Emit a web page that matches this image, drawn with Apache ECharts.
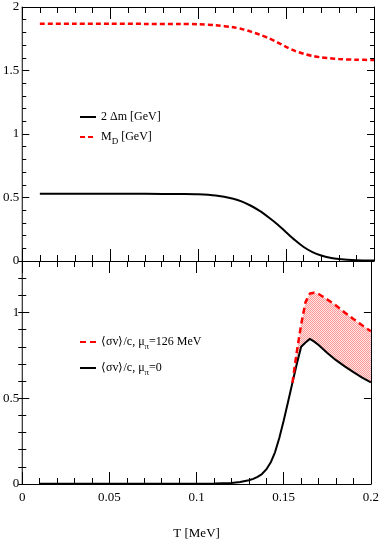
<!DOCTYPE html>
<html>
<head>
<meta charset="utf-8">
<script src="https://cdn.jsdelivr.net/npm/echarts@6/dist/echarts.min.js"></script>
<style>
    html, body { margin: 0; padding: 0; background: #fff; }
    #chart { width: 382px; height: 545px; }
</style>
</head>
<body>
<div id="chart"></div>
<script>
// upper panel: 2 delta m and M_D vs T
const tTop = [0.01, 0.03, 0.05, 0.07, 0.09, 0.1, 0.11, 0.12, 0.125, 0.13, 0.135, 0.14, 0.145,
    0.15, 0.155, 0.16, 0.165, 0.17, 0.175, 0.18, 0.19, 0.2];
const deltaM = [0.53, 0.53, 0.53, 0.529, 0.527, 0.525, 0.515, 0.49, 0.468, 0.435, 0.395, 0.345, 0.29,
    0.227, 0.165, 0.11, 0.07, 0.043, 0.025, 0.015, 0.006, 0.003];
const massD = [1.868, 1.868, 1.868, 1.867, 1.866, 1.864, 1.856, 1.84, 1.826, 1.806, 1.782, 1.755, 1.722,
    1.686, 1.655, 1.632, 1.615, 1.603, 1.596, 1.59, 1.585, 1.583];

// lower panel: <sigma v>/c vs T
const tBot = [0.01, 0.05, 0.1, 0.11, 0.12, 0.125, 0.13, 0.1325, 0.135, 0.1375, 0.14, 0.1425, 0.145,
    0.1475, 0.15, 0.1525, 0.155, 0.1575, 0.16, 0.1625, 0.165, 0.1675, 0.17, 0.175, 0.18, 0.185,
    0.19, 0.195, 0.2];
const sigmaMu0 = [0.001, 0.001, 0.002, 0.003, 0.006, 0.012, 0.022, 0.03, 0.042, 0.058, 0.085, 0.125, 0.185,
    0.27, 0.37, 0.48, 0.59, 0.7, 0.8, 0.825, 0.846, 0.83, 0.81, 0.764, 0.722, 0.686,
    0.652, 0.62, 0.592];
const sigmaMu126 = [null, null, null, null, null, null, null, null, null, null, null, null, null,
    null, null, null, 0.59, 0.77, 0.93, 1.06, 1.11, 1.115, 1.108, 1.076, 1.04, 1.0,
    0.962, 0.925, 0.89];

const xTickLabels = ['0', '0.05', '0.1', '0.15', '0.2'];

// legend texts (rich text for subscripts)
const legendText = {
    dm: '{n|2 Δm [GeV]}',
    md: '{n|M}{s|D}{n| [GeV]}',
    sv126: '{n|⟨σv⟩/c, μ}{s|π}{n|=126 MeV}',
    sv0: '{n|⟨σv⟩/c, μ}{s|π}{n|=0}'
};

const FONT = 'Liberation Serif';

const pairs = (xs, ys) => xs.map((x, i) => [x, ys[i]]);

// band between the two lower curves
const bandRows = tBot
    .map((t, i) => [t, sigmaMu0[i], sigmaMu126[i]])
    .filter(r => r[2] != null);

// checkered pink fill
const pat = document.createElement('canvas');
pat.width = 2; pat.height = 2;
const pctx = pat.getContext('2d');
pctx.fillStyle = '#ffe4e4'; pctx.fillRect(0, 0, 2, 2);
pctx.fillStyle = '#ff9a9a'; pctx.fillRect(0, 0, 1, 1); pctx.fillRect(1, 1, 1, 1);

function xAx(grid, pos, withLabels) {
    return {
        type: 'value', gridIndex: grid, position: pos, min: 0, max: 0.2, interval: 0.05, z: 10,
        axisLine: { onZero: false, lineStyle: { color: '#000', width: 1 } },
        axisTick: { inside: true, length: 12, lineStyle: { color: '#000' } },
        minorTick: { show: true, splitNumber: 5, length: 6, lineStyle: { color: '#000' } },
        splitLine: { show: false },
        axisLabel: {
            show: withLabels, margin: 7, fontFamily: FONT, fontSize: 13, color: '#000',
            formatter: v => xTickLabels[Math.round(v / 0.05)]
        },
        name: withLabels ? 'T [MeV]' : '',
        nameLocation: 'middle', nameGap: 43,
        nameTextStyle: { fontFamily: FONT, fontSize: 13, color: '#000' }
    };
}

function yAx(grid, pos, max, interval, len, opts) {
    return Object.assign({
        type: 'value', gridIndex: grid, position: pos, min: 0, max: max, interval: interval, z: 10,
        axisLine: { show: true, onZero: false, lineStyle: { color: '#000', width: 1 } },
        axisTick: { inside: true, length: len, lineStyle: { color: '#000' } },
        splitLine: { show: false },
        axisLabel: { show: false }
    }, opts || {});
}

const yLabel = {
    show: true, margin: 3, fontFamily: FONT, fontSize: 13, color: '#000',
    showMaxLabel: true,
    formatter: v => (Math.abs(v * 2 - Math.round(v * 2)) < 1e-6 ? String(+v.toFixed(1)) : '')
};

const richText = {
    n: { fontFamily: FONT, fontSize: 12, lineHeight: 14, color: '#000' },
    s: { fontFamily: FONT, fontSize: 9, lineHeight: 14, padding: [9, 0, 0, 0], color: '#000' }
};

// legend: line sample only, no symbol
const legendBase = {
    orient: 'vertical', left: 79, padding: 0,
    itemWidth: 16, itemHeight: 14,
    itemStyle: { color: 'rgba(0,0,0,0)', borderWidth: 0 },
    formatter: name => legendText[name],
    textStyle: { rich: richText }
};

const chart = echarts.init(document.getElementById('chart'));

chart.setOption({
    animation: false,
    grid: [
        { left: 19, top: 7, width: 355, height: 254 },
        { left: 19, top: 261, width: 355, height: 223 }
    ],
    legend: [
        Object.assign({ data: ['dm', 'md'], top: 111, itemGap: 5 }, legendBase),
        Object.assign({ data: ['sv126', 'sv0'], top: 333, itemGap: 8 }, legendBase)
    ],
    xAxis: [
        xAx(0, 'bottom', false),
        xAx(0, 'top', false),
        xAx(1, 'bottom', true),
        xAx(1, 'top', false)
    ],
    yAxis: [
        yAx(0, 'left', 2, 0.5, 7, {
            minorTick: { show: true, splitNumber: 5, length: 4, lineStyle: { color: '#000' } },
            axisLabel: yLabel
        }),
        yAx(0, 'right', 2, 0.5, 7, {
            minorTick: { show: true, splitNumber: 5, length: 4, lineStyle: { color: '#000' } }
        }),
        yAx(1, 'left', 1.3, 0.5, 7, { axisLabel: Object.assign({}, yLabel, { showMaxLabel: false }) }),
        yAx(1, 'left', 1.3, 0.1, 4, { axisLine: { show: false } }),
        yAx(1, 'right', 1.3, 0.5, 7),
        yAx(1, 'right', 1.3, 0.1, 4, { axisLine: { show: false } })
    ],
    series: [
        {
            name: 'dm', type: 'line', xAxisIndex: 0, yAxisIndex: 0, symbol: 'none', smooth: 0.3,
            data: pairs(tTop, deltaM),
            lineStyle: { color: '#000', width: 2 }, itemStyle: { color: '#000' }, z: 5
        },
        {
            name: 'md', type: 'line', xAxisIndex: 0, yAxisIndex: 0, symbol: 'none', smooth: 0.3,
            data: pairs(tTop, massD),
            lineStyle: { color: '#ff0000', width: 2.5, type: [5, 3] }, itemStyle: { color: '#ff0000' }, z: 5
        },
        {
            name: 'band', type: 'custom', coordinateSystem: 'cartesian2d', xAxisIndex: 2, yAxisIndex: 2,
            data: bandRows, encode: { x: 0, y: [1, 2] }, silent: true, z: 3,
            renderItem: (params, api) => {
                if (params.dataIndex !== 0) return null;
                const upper = bandRows.map(r => api.coord([r[0], r[2]]));
                const lower = bandRows.map(r => api.coord([r[0], r[1]])).reverse();
                return {
                    type: 'polygon',
                    shape: { points: upper.concat(lower) },
                    style: { fill: { image: pat, repeat: 'repeat' } }
                };
            }
        },
        {
            name: 'sv126', type: 'line', xAxisIndex: 2, yAxisIndex: 2, symbol: 'none',
            data: pairs(tBot, sigmaMu126),
            lineStyle: { color: '#ff0000', width: 2.5, type: [6, 4] }, itemStyle: { color: '#ff0000' }, z: 6
        },
        {
            name: 'sv0', type: 'line', xAxisIndex: 2, yAxisIndex: 2, symbol: 'none',
            data: pairs(tBot, sigmaMu0),
            lineStyle: { color: '#000', width: 2 }, itemStyle: { color: '#000' }, z: 5
        }
    ]
});
</script>
</body>
</html>
